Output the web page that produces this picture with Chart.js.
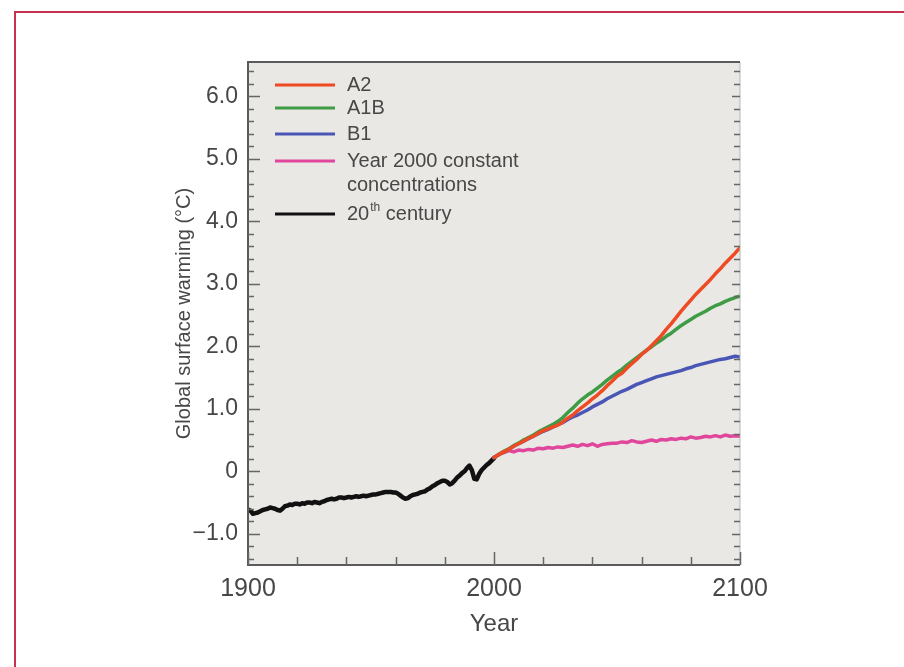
<!DOCTYPE html>
<html>
<head>
<meta charset="utf-8">
<script src="https://cdn.jsdelivr.net/npm/chart.js@4/dist/chart.umd.min.js"></script>
<style>
  html, body { margin: 0; padding: 0; background: #ffffff; }
  body { width: 904px; height: 667px; position: relative; overflow: hidden; }
  #frame { position: absolute; left: 14px; top: 11px; width: 1000px; height: 1000px;
           border-left: 2px solid #c5314e; border-top: 2px solid #c5314e; box-sizing: border-box; }
  #wrap { position: absolute; left: 0; top: 0; width: 904px; height: 667px; }
</style>
</head>
<body>
<div id="frame"></div>
<div id="wrap"><canvas id="c" width="904" height="667"></canvas></div>
<script>
// ---- Data ----
const seriesNames = ["A2", "A1B", "B1", "Year 2000 constant\nconcentrations", "20th century"];
const seriesColors = ["#ee4a24", "#3e9b46", "#4a56b6", "#e0479c", "#111111"];

// 20th century observed (annual, 1900-2000)
const histYears = Array.from({length: 101}, (_, i) => 1900 + i);
const hist = [
  -0.61, -0.63, -0.68, -0.67, -0.66, -0.64, -0.62, -0.61, -0.60, -0.58,
  -0.59, -0.60, -0.62, -0.63, -0.60, -0.56, -0.55, -0.53, -0.54, -0.52,
  -0.52, -0.53, -0.51, -0.52, -0.50, -0.50, -0.51, -0.49, -0.50, -0.51,
  -0.49, -0.48, -0.46, -0.45, -0.44, -0.45, -0.44, -0.42, -0.42, -0.43,
  -0.42, -0.41, -0.42, -0.41, -0.40, -0.41, -0.40, -0.39, -0.40, -0.39,
  -0.38, -0.37, -0.37, -0.36, -0.35, -0.34, -0.33, -0.33, -0.33, -0.34,
  -0.34, -0.36, -0.39, -0.42, -0.44, -0.43, -0.40, -0.38, -0.37, -0.36,
  -0.34, -0.33, -0.32, -0.29, -0.27, -0.24, -0.22, -0.19, -0.17, -0.15,
  -0.15, -0.17, -0.21, -0.19, -0.15, -0.10, -0.07, -0.03, 0.00, 0.05,
  0.09, 0.02, -0.12, -0.13, -0.04, 0.02, 0.06, 0.10, 0.13, 0.17,
  0.21
];

// Scenario projections (every 2 years, 2000-2100)
const projYears = Array.from({length: 51}, (_, i) => 2000 + 2 * i);
const a2 = [
  0.22, 0.27, 0.31, 0.35, 0.40, 0.44, 0.48, 0.53, 0.56, 0.61,
  0.65, 0.68, 0.71, 0.74, 0.79, 0.85, 0.90, 0.97, 1.03, 1.09,
  1.16, 1.22, 1.29, 1.37, 1.44, 1.52, 1.57, 1.65, 1.72, 1.79,
  1.87, 1.93, 2.01, 2.09, 2.17, 2.27, 2.36, 2.46, 2.56, 2.65,
  2.74, 2.83, 2.91, 2.99, 3.07, 3.16, 3.24, 3.33, 3.41, 3.49,
  3.58
];
const a1b = [
  0.22, 0.27, 0.32, 0.36, 0.41, 0.45, 0.50, 0.54, 0.58, 0.63,
  0.67, 0.71, 0.75, 0.80, 0.86, 0.94, 1.01, 1.09, 1.16, 1.22,
  1.27, 1.33, 1.39, 1.46, 1.52, 1.58, 1.63, 1.70, 1.76, 1.82,
  1.88, 1.94, 1.99, 2.05, 2.10, 2.16, 2.21, 2.27, 2.33, 2.38,
  2.43, 2.48, 2.52, 2.56, 2.61, 2.65, 2.68, 2.72, 2.75, 2.78,
  2.80
];
const b1 = [
  0.22, 0.27, 0.31, 0.35, 0.40, 0.44, 0.48, 0.52, 0.56, 0.60,
  0.64, 0.67, 0.71, 0.75, 0.78, 0.83, 0.87, 0.90, 0.94, 0.98,
  1.03, 1.07, 1.11, 1.16, 1.20, 1.24, 1.28, 1.31, 1.35, 1.39,
  1.42, 1.45, 1.48, 1.51, 1.53, 1.55, 1.57, 1.59, 1.61, 1.64,
  1.66, 1.69, 1.71, 1.73, 1.75, 1.77, 1.79, 1.80, 1.82, 1.84,
  1.83
];
const constConc = [
  0.22, 0.27, 0.30, 0.33, 0.31, 0.34, 0.33, 0.35, 0.34, 0.37,
  0.36, 0.38, 0.37, 0.39, 0.38, 0.40, 0.42, 0.40, 0.43, 0.41,
  0.44, 0.40, 0.43, 0.44, 0.45, 0.45, 0.47, 0.46, 0.49, 0.47,
  0.46, 0.48, 0.50, 0.48, 0.51, 0.50, 0.52, 0.51, 0.53, 0.52,
  0.55, 0.53, 0.54, 0.56, 0.55, 0.57, 0.55, 0.58, 0.56, 0.57,
  0.56
];

// Tick labels
const xTickValues = [1900, 2000, 2100];
const xTickLabels = ["1900", "2000", "2100"];
const yTickValues = [-1, 0, 1, 2, 3, 4, 5, 6];
const yTickLabels = ["\u22121.0", "0", "1.0", "2.0", "3.0", "4.0", "5.0", "6.0"];
const xMinorTicks = [1920, 1940, 1960, 1980, 2020, 2040, 2060, 2080];

function pts(xs, ys) { return xs.map((x, i) => ({x: x, y: ys[i]})); }

const FONT = "'Liberation Sans', Arial, Helvetica, sans-serif";
const TEXT = "#474747";

const decor = {
  id: 'decor',
  beforeDatasetsDraw(chart) {
    const {ctx, chartArea: a} = chart;
    ctx.save();
    ctx.fillStyle = '#eae8e4';
    ctx.fillRect(a.left, a.top, a.right - a.left, a.bottom - a.top);
    ctx.restore();
  },
  afterDatasetsDraw(chart) {
    const {ctx, chartArea: a, scales} = chart;
    const xs = scales.x, ys = scales.y;
    ctx.save();
    ctx.lineWidth = 1;
    ctx.strokeStyle = '#b5b5b5';
    ctx.beginPath(); ctx.moveTo(a.right, a.top); ctx.lineTo(a.right, a.bottom); ctx.stroke();
    ctx.lineWidth = 2;
    ctx.strokeStyle = '#5a5a5a';
    ctx.beginPath();
    ctx.moveTo(a.right, a.top); ctx.lineTo(a.left, a.top); ctx.lineTo(a.left, a.bottom); ctx.lineTo(a.right, a.bottom);
    ctx.stroke();
    ctx.lineWidth = 1.5;
    ctx.strokeStyle = '#666';
    for (let v = -1.4; v <= 6.41; v += 0.2) {
      const vv = Math.round(v * 10) / 10;
      const y = Math.round(ys.getPixelForValue(vv)) + 0.5;
      const major = Math.abs(vv - Math.round(vv)) < 1e-6;
      const lenL = major ? 12 : 6;
      ctx.beginPath(); ctx.moveTo(a.left, y); ctx.lineTo(a.left + lenL, y); ctx.stroke();
      ctx.beginPath(); ctx.moveTo(a.right, y); ctx.lineTo(a.right - (major ? 8 : 6), y); ctx.stroke();
    }
    xTickValues.concat(xMinorTicks).forEach(v => {
      const x = Math.round(xs.getPixelForValue(v)) + 0.5;
      const len = xTickValues.includes(v) ? 13 : 8;
      ctx.beginPath(); ctx.moveTo(x, a.bottom); ctx.lineTo(x, a.bottom - len); ctx.stroke();
    });
    ctx.restore();
  },
  afterDraw(chart) {
    const {ctx, chartArea: a} = chart;
    const rows = [23, 46, 72, 99, 152];
    ctx.save();
    ctx.textBaseline = 'middle';
    ctx.fillStyle = TEXT;
    chart.data.datasets.forEach((ds, i) => {
      const y = a.top + rows[i];
      ctx.strokeStyle = ds.borderColor;
      ctx.lineWidth = 3;
      ctx.beginPath(); ctx.moveTo(a.left + 27, y); ctx.lineTo(a.left + 87, y); ctx.stroke();
      const tx = a.left + 99;
      const lines = ds.label.split('\n');
      lines.forEach((ln, k) => {
        const m = ln.match(/^(\d+)(th)(.*)$/);
        const ly = y + k * 24;
        if (m) {
          ctx.font = '20px ' + FONT;
          ctx.fillText(m[1], tx, ly);
          const w1 = ctx.measureText(m[1]).width;
          ctx.font = '12px ' + FONT;
          ctx.fillText(m[2], tx + w1 + 1, ly - 6);
          const w2 = ctx.measureText(m[2]).width;
          ctx.font = '20px ' + FONT;
          ctx.fillText(m[3], tx + w1 + w2 + 1, ly);
        } else {
          ctx.font = '20px ' + FONT;
          ctx.fillText(ln, tx, ly);
        }
      });
    });
    ctx.restore();
  }
};

const datasets = [
  {label: seriesNames[0], data: pts(projYears, a2), borderColor: seriesColors[0], borderWidth: 3.5},
  {label: seriesNames[1], data: pts(projYears, a1b), borderColor: seriesColors[1], borderWidth: 3.5},
  {label: seriesNames[2], data: pts(projYears, b1), borderColor: seriesColors[2], borderWidth: 3.5},
  {label: seriesNames[3], data: pts(projYears, constConc), borderColor: seriesColors[3], borderWidth: 3.5},
  {label: seriesNames[4], data: pts(histYears, hist), borderColor: seriesColors[4], borderWidth: 4.5}
].map(d => Object.assign(d, {pointRadius: 0, fill: false, tension: 0, borderJoinStyle: 'round', borderCapStyle: 'round'}));

new Chart(document.getElementById('c'), {
  type: 'line',
  data: {datasets},
  plugins: [decor],
  options: {
    responsive: false,
    animation: false,
    events: [],
    layout: {padding: {left: 168, right: 164, top: 62, bottom: 24}},
    plugins: {legend: {display: false}, tooltip: {enabled: false}},
    scales: {
      x: {
        type: 'linear', min: 1900, max: 2100,
        afterFit(s) { s.height = 78; },
        afterBuildTicks(s) { s.ticks = xTickValues.map(v => ({value: v})); },
        grid: {display: false, drawTicks: false},
        border: {display: false},
        ticks: {
          padding: 9, color: TEXT, maxRotation: 0, autoSkip: false,
          font: {family: FONT, size: 25},
          callback: (v) => { const i = xTickValues.indexOf(v); return i >= 0 ? xTickLabels[i] : ''; }
        },
        title: {display: true, text: 'Year', color: TEXT, font: {family: FONT, size: 24}, padding: {top: 4, bottom: 4}}
      },
      y: {
        type: 'linear', min: -1.5, max: 6.55,
        afterFit(s) { s.width = 80; },
        afterBuildTicks(s) { s.ticks = yTickValues.map(v => ({value: v})); },
        grid: {display: false, drawTicks: false},
        border: {display: false},
        ticks: {
          padding: 10, color: TEXT, autoSkip: false,
          font: {family: FONT, size: 23},
          callback: (v) => { const i = yTickValues.indexOf(v); return i >= 0 ? yTickLabels[i] : ''; }
        },
        title: {display: true, text: 'Global surface warming (\u00B0C)', color: TEXT, font: {family: FONT, size: 20}, padding: {top: 4, bottom: 4}}
      }
    }
  }
});
</script>
</body>
</html>
